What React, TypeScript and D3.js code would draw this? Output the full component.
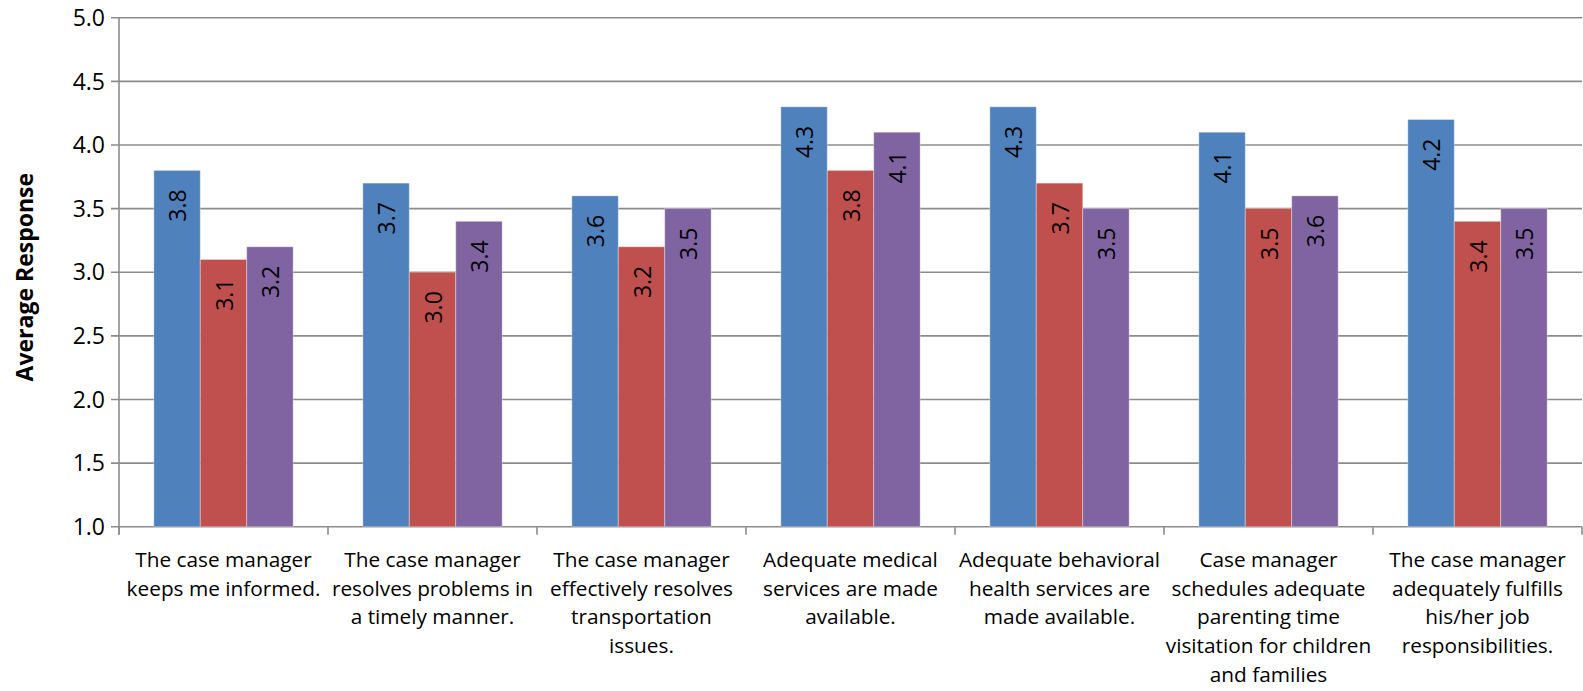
import React from "react";
import * as d3 from "d3";

const categories: string[][] = [
  ["The case manager", "keeps me informed."],
  ["The case manager", "resolves problems in", "a timely manner."],
  ["The case manager", "effectively resolves", "transportation", "issues."],
  ["Adequate medical", "services are made", "available."],
  ["Adequate behavioral", "health services are", "made available."],
  ["Case manager", "schedules adequate", "parenting time", "visitation for children", "and families"],
  ["The case manager", "adequately fulfills", "his/her job", "responsibilities."],
];
const seriesA = [3.8, 3.7, 3.6, 4.3, 4.3, 4.1, 4.2];
const seriesB = [3.1, 3.0, 3.2, 3.8, 3.7, 3.5, 3.4];
const seriesC = [3.2, 3.4, 3.5, 4.1, 3.5, 3.6, 3.5];
const seriesColors = ["#4F81BD", "#C0504D", "#8064A2"];
const yTicks = [1.0, 1.5, 2.0, 2.5, 3.0, 3.5, 4.0, 4.5, 5.0];
const yTitle = "Average Response";

const W = 1583;
const H = 691;
const left = 119;
const right = 1582;
const top = 17.7;
const bottom = 526.7;
const FONT = "'Open Sans', Lato, sans-serif";

export default function App() {
  const series = [seriesA, seriesB, seriesC];
  const x = d3
    .scaleBand<number>()
    .domain(d3.range(categories.length))
    .range([left, right])
    .paddingInner(0)
    .paddingOuter(0);
  const inner = d3
    .scaleBand<number>()
    .domain([0, 1, 2])
    .range([0, x.bandwidth()])
    .paddingOuter(0.75)
    .paddingInner(0);
  const y = d3.scaleLinear().domain([1, 5]).range([bottom, top]);
  const grid = "#8C8C8C";

  return (
    <svg
      width={W}
      height={H}
      style={{ position: "absolute", left: 0, top: 0, background: "#fff" }}
      fontFamily={FONT}
    >
      {yTicks.map((t) => (
        <g key={t}>
          <line x1={left - 8} x2={right} y1={y(t)} y2={y(t)} stroke={grid} strokeWidth={1.6} />
          <text x={left - 14} y={y(t)} dy="0.36em" textAnchor="end" fontSize={23} fill="#000">
            {t.toFixed(1)}
          </text>
        </g>
      ))}
      <line x1={left} x2={left} y1={top} y2={bottom + 8} stroke={grid} strokeWidth={1.6} />
      {d3.range(categories.length + 1).map((i) => {
        const xx = i < categories.length ? (x(i) as number) : right;
        return <line key={i} x1={xx} x2={xx} y1={bottom} y2={bottom + 8} stroke={grid} strokeWidth={1.6} />;
      })}
      {series.map((vals, s) =>
        vals.map((v, i) => {
          const bx = (x(i) as number) + (inner(s) as number);
          const bw = inner.bandwidth();
          const by = y(v);
          return (
            <g key={`${s}-${i}`}>
              <rect x={bx} y={by} width={bw} height={bottom - by} fill={seriesColors[s]} stroke="rgba(255,255,255,0.35)" strokeWidth={1} />
              <text
                transform={`translate(${bx + bw / 2 + 1},${by + 19}) rotate(-90)`}
                textAnchor="end"
                dy="0.36em"
                fontSize={23}
                fill="#000"
              >
                {v.toFixed(1)}
              </text>
            </g>
          );
        })
      )}
      {categories.map((lines, i) => (
        <text key={i} textAnchor="middle" fontSize={20.8} fill="#000">
          {lines.map((ln, k) => (
            <tspan key={k} x={(x(i) as number) + x.bandwidth() / 2} y={567 + k * 28.7}>
              {ln}
            </tspan>
          ))}
        </text>
      ))}
      <text
        transform={`translate(33,${(top + bottom) / 2 + 5}) rotate(-90)`}
        textAnchor="middle"
        fontSize={23}
        fontWeight="bold"
        fill="#000"
      >
        {yTitle}
      </text>
    </svg>
  );
}
